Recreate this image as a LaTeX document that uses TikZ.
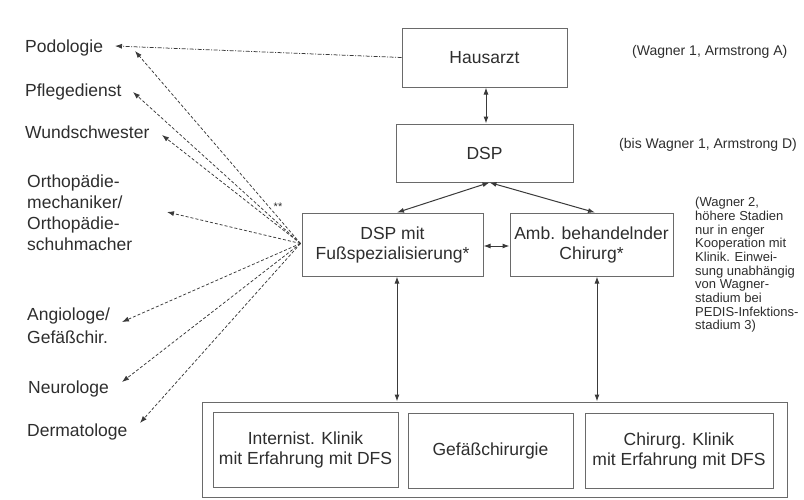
\documentclass[tikz,border=0pt]{standalone}
\usepackage{fontspec}
\setmainfont{Liberation Sans}
\usetikzlibrary{arrows.meta,calc}
\definecolor{ln}{HTML}{3A3A3A}
\definecolor{bx}{HTML}{6A6A6A}
\definecolor{tx}{HTML}{2E2E2E}
\begin{document}
\begin{tikzpicture}[x=1pt,y=-1pt,
  box/.style={draw=bx, line width=1pt, inner sep=0pt, align=center, text=tx, font=\fontsize{17.5}{20}\selectfont},
  lab/.style={inner sep=0pt, text=tx, font=\fontsize{17.5}{21}\selectfont, align=left},
  note/.style={inner sep=0pt, anchor=west, text=tx, font=\fontsize{14}{16}\selectfont},
  arr/.style={draw=ln, line width=1pt, {Latex[length=7pt,width=5pt]}-{Latex[length=7pt,width=5pt]}},
  fanline/.style={draw=ln, line width=0.75pt, dash pattern=on 3pt off 2pt, -{Latex[length=7pt,width=5pt]}},
  dashdot/.style={draw=ln, line width=0.75pt, dash pattern=on 4pt off 1.5pt on 1pt off 1.5pt, -{Latex[length=7pt,width=5pt]}}]
\fill[white] (0,0) rectangle (804,499);
\useasboundingbox (0,0) rectangle (804,499);

% main boxes
\node[box, minimum width=165pt, minimum height=59pt] (haus) at (484.5,57.5) {Hausarzt};
\node[box, minimum width=177pt, minimum height=58pt] (dsp) at (484.5,153) {DSP};
\node[box, minimum width=181pt, minimum height=63pt] (fuss) at (392.5,244.5) {DSP mit\\Fußspezialisierung*};
\node[box, minimum width=163pt, minimum height=63pt] (amb) at (591.5,244.5) {Amb. behandelnder\\Chirurg*};

% clinic group
\node[box, minimum width=585pt, minimum height=95pt] (clin) at (494.5,449.5) {};
\node[box, minimum width=185pt, minimum height=75pt] (intern) at (305.5,449.5) {Internist. Klinik\\mit Erfahrung mit DFS};
\node[box, minimum width=165pt, minimum height=75pt] (gefc) at (490.5,450.5) {Gefäßchirurgie};
\node[box, minimum width=188pt, minimum height=75pt] (chir) at (679,450.5) {Chirurg. Klinik\\mit Erfahrung mit DFS};

% notes
\node[note] (n1) at (632,52) {(Wagner 1, Armstrong A)};
\node[note] (n2) at (619,145) {(bis Wagner 1, Armstrong D)};
\node[inner sep=0pt, anchor=north west, text=tx, align=left, font=\fontsize{13}{13.7}\selectfont] (n3) at (695,197)
  {(Wagner 2,\\höhere Stadien\\nur in enger\\Kooperation mit\\Klinik. Einwei-\\sung unabhängig\\von Wagner-\\stadium bei\\PEDIS-Infektions-\\stadium 3)};

% left labels
\node[lab, anchor=base west] (pod) at (25,52) {Podologie};
\node[lab, anchor=base west] (pfl) at (25,96) {Pflegedienst};
\node[lab, anchor=base west] (wund) at (25,138) {Wundschwester};
\node[lab, anchor=north west] (orth) at (27,175) {Orthopädie-\\mechaniker/\\Orthopädie-\\schuhmacher};
\node[lab, anchor=north west, font=\fontsize{17.5}{22.5}\selectfont] (angio) at (27,308) {Angiologe/\\Gefäßchir.};
\node[lab, anchor=base west] (neuro) at (28,393) {Neurologe};
\node[lab, anchor=base west] (derm) at (27,436) {Dermatologe};

\node[inner sep=0pt, text=tx, font=\fontsize{11}{11}\selectfont] (star) at (278,207) {**};

% arrow targets
\coordinate (tH) at (115,46);
\coordinate (t1) at (135,51);
\coordinate (t2) at (133,92);
\coordinate (t3) at (162,135);
\coordinate (t4) at (167,212);
\coordinate (t5) at (122,322);
\coordinate (t6) at (122,382);
\coordinate (t7) at (140,423);
\coordinate (fan) at ($(fuss.west)+(-1,-1)$);

\draw[dashdot] (haus.west) -- (tH);
\foreach \t in {t1,t2,t3,t4,t5,t6,t7} \draw[fanline] (fan) -- (\t);

% solid connectors
\draw[arr] ($(haus.south)+(1.5,0)$) -- ($(dsp.north)+(1.5,0)$);
\draw[arr] ($(dsp.south)+(5,0)$) -- ($(fuss.north)+(4.5,0)$);
\draw[arr] ($(dsp.south)+(5,0)$) -- ($(amb.north)+(3.5,0)$);
\draw[arr] ($(fuss.east)+(0,1.5)$) -- ($(amb.west)+(0,1.5)$);
\coordinate (v1) at ($(fuss.south)+(4.5,0)$);
\coordinate (v2) at ($(amb.south)+(5.5,0)$);
\draw[arr] (v1) -- (v1 |- clin.north);
\draw[arr] (v2) -- (v2 |- clin.north);
\end{tikzpicture}
\end{document}
